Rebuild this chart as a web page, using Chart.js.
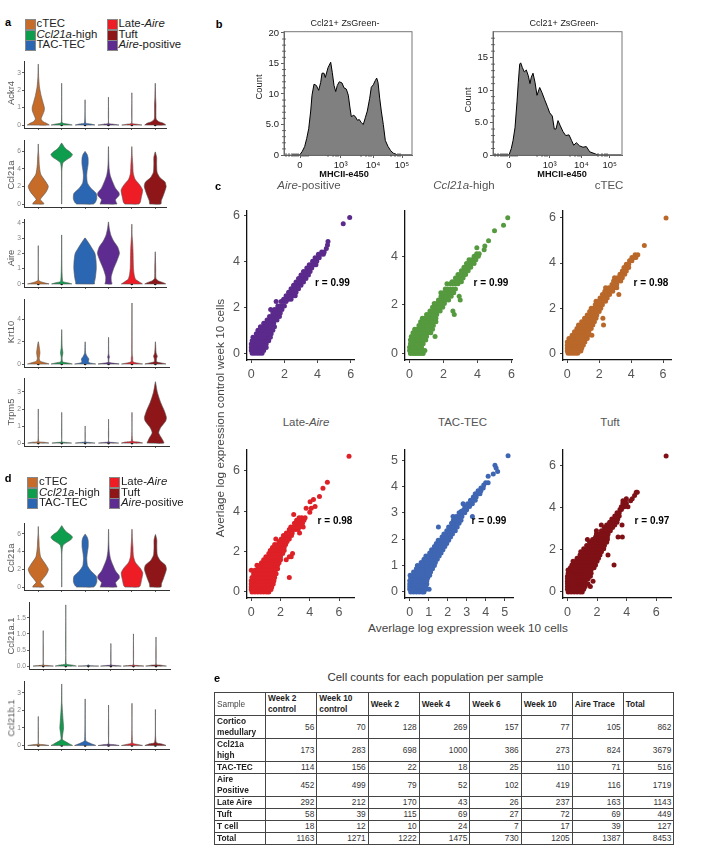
<!DOCTYPE html>
<html>
<head>
<meta charset="utf-8">
<title>Figure</title>
<script src="https://cdn.jsdelivr.net/npm/chart.js@4/dist/chart.umd.js"></script>
<style>
html, body { margin: 0; padding: 0; background: #fff; overflow: hidden; }
body { width: 708px; height: 846px; position: relative; font-family: "Liberation Sans", Arial, sans-serif; }
canvas { position: absolute; }
.txt { position: absolute; white-space: nowrap; line-height: 1; }
.sw { position: absolute; width: 9px; height: 9px; border: 0.5px solid #888; }
table { position: absolute; left: 214px; top: 692px; border-collapse: collapse; table-layout: fixed; font-size: 8.3px; color: #333; }
td { border: 1px solid #444; padding: 0 2px; text-align: right; line-height: 11px; overflow: hidden; }
td.h { text-align: left; font-weight: bold; color: #222; }
td.s { font-weight: normal; color: #444; }
</style>
</head>
<body>
<script>
// population order and colours
const populations = ["cTEC", "Ccl21a-high", "TAC-TEC", "Aire-positive", "Late-Aire", "Tuft"];
const popColors = ["#c76b29", "#0e9d4d", "#2b66b3", "#5e2b90", "#ee1c25", "#8e1518"];

// violins: [expression, half width] from the bottom up, one list per population
const ackr4Violins = [
    [[0,.47],[.1,.35],[.2,.2],[.35,.12],[.5,.16],[.8,.25],[1,.26],[1.3,.2],[1.7,.12],[2.2,.05],[2.8,.015],[3.5,.003]],
    [[0,.45],[.05,.3],[.1,.06],[.2,.01],[2.4,.003]],
    [[0,.42],[.06,.25],[.12,.03],[1.45,.003]],
    [[0,.45],[.05,.2],[.1,.01],[1.6,.003]],
    [[0,.43],[.05,.2],[.1,.01],[1.85,.003]],
    [[0,.45],[.1,.35],[.2,.15],[.35,.04],[.7,.03],[1.2,.03],[1.6,.015],[2.4,.003]],
];
const ackr4Medians = [1, 0, 0, 0, 0, 0];

const ccl21aViolins = [
    [[0,.24],[.2,.2],[.5,.09],[.8,.16],[1.4,.34],[2,.43],[2.6,.3],[3.4,.1],[4.5,.04],[5.2,.03],[6,.01],[6.8,.003]],
    [[0,.003],[3.5,.006],[4.2,.02],[4.7,.06],[5,.2],[5.3,.38],[5.6,.46],[5.9,.36],[6.2,.2],[6.5,.1],[6.9,.005]],
    [[0,.36],[.2,.44],[.6,.5],[1.2,.48],[1.8,.25],[2.4,.1],[3.2,.07],[3.8,.09],[4.5,.13],[5.2,.13],[5.6,.09],[5.95,.005]],
    [[0,.36],[.2,.33],[.5,.3],[1,.46],[1.3,.45],[1.8,.3],[2.5,.18],[3.2,.08],[4,.03],[5,.012],[6.5,.003]],
    [[0,.3],[.2,.36],[.7,.4],[1.6,.46],[2.2,.33],[2.8,.14],[3.5,.06],[4.5,.04],[5.5,.015],[6.5,.003]],
    [[0,.24],[.4,.26],[1,.35],[2,.47],[2.5,.42],[3,.2],[3.6,.08],[4.5,.06],[5.3,.06],[5.9,.004]],
];
const ccl21aMedians = [2, 5.6, 1.3, 1.3, 1.6, 2.1];

const aireViolins = [
    [[0,.46],[.06,.3],[.15,.1],[.25,.01],[2.5,.003]],
    [[0,.43],[.08,.25],[.18,.04],[3.2,.003]],
    [[0,.4],[.1,.4],[.4,.44],[1,.48],[1.5,.47],[2,.42],[2.4,.27],[2.8,.1],[3,.01]],
    [[0,.15],[.2,.12],[.5,.12],[1,.22],[1.5,.36],[2,.47],[2.4,.4],[2.8,.22],[3.2,.1],[3.6,.04],[4.05,.003]],
    [[0,.45],[.1,.35],[.3,.16],[.6,.1],[1,.07],[1.5,.06],[2.2,.05],[2.8,.03],[3.2,.01],[3.9,.003]],
    [[0,.45],[.1,.32],[.2,.14],[.35,.03],[1,.02],[2.1,.003]],
];
const aireMedians = [0, 0, 1.25, 2, 0, 0];

const krt10Violins = [
    [[0,.46],[.12,.28],[.25,.08],[.5,.04],[1,.07],[1.4,.05],[2,.005]],
    [[0,.45],[.1,.25],[.2,.04],[.6,.02],[1,.05],[1.5,.02],[3.1,.003]],
    [[0,.45],[.1,.2],[.2,.14],[.45,.16],[.7,.08],[1,.02],[2,.003]],
    [[0,.45],[.08,.18],[.15,.02],[.5,.02],[.6,.04],[.9,.01],[2.4,.003]],
    [[0,.45],[.1,.2],[.2,.04],[.6,.03],[.8,.01],[5.5,.003]],
    [[0,.45],[.1,.25],[.2,.05],[.5,.05],[.7,.08],[1,.03],[2,.003]],
];
const krt10Medians = [0, 0, 0, 0, 0, 0];

const trpm5Violins = [
    [[0,.45],[.05,.25],[.1,.02],[2,.003]],
    [[0,.42],[.04,.2],[.08,.01],[1.8,.003]],
    [[0,.42],[.04,.2],[.08,.01],[1,.003]],
    [[0,.43],[.04,.2],[.08,.01],[1.4,.003]],
    [[0,.45],[.06,.3],[.12,.03],[1.8,.003]],
    [[0,.36],[.3,.26],[.6,.14],[.9,.22],[1.3,.44],[1.5,.47],[1.9,.38],[2.4,.22],[3,.08],[3.6,.003]],
];
const trpm5Medians = [0, 0, 0, 0, 0, 1.5];

const ccl21a1Violins = [
    [[0,.45],[.02,.2],[.04,.01],[1.1,.003]],
    [[0,.47],[.03,.3],[.07,.02],[1.9,.003]],
    [[0,.46],[.01,.1],[.03,.003]],
    [[0,.46],[.02,.2],[.04,.01],[.7,.003]],
    [[0,.46],[.02,.2],[.04,.01],[1,.003]],
    [[0,.46],[.03,.2],[.05,.01],[.9,.003]],
];
const ccl21a1Medians = [0, 0, 0, 0, 0, 0];

const ccl21b1Violins = [
    [[0,.45],[.05,.2],[.1,.01],[1.65,.003]],
    [[0,.46],[.1,.32],[.25,.12],[.35,.03],[.6,.04],[1,.08],[1.4,.06],[2,.03],[2.5,.01],[3.5,.003]],
    [[0,.45],[.08,.3],[.2,.1],[.3,.02],[2.65,.003]],
    [[0,.45],[.05,.2],[.1,.01],[2.3,.003]],
    [[0,.45],[.06,.25],[.14,.03],[2.4,.003]],
    [[0,.45],[.08,.28],[.18,.03],[2.05,.003]],
];
const ccl21b1Medians = [0, 0, 0, 0, 0, 0];

// flow histograms: x is the position on the biexponential axis
const histAX = [8,15.7,18.3,20.7,22.7,24.7,26.7,28,30,32.3,34.7,36.7,38,40,41.3,44,46.7,48.3,50,51.7,53.3,55.3,58,60,62.3,64.3,66,67.3,69.7,71.3,73.3,75.3,77.3,79.3,81.3,83.3,85.7,87.3,89.3,91.3,92.7,94,95.7,97.3,99.3,101.3,104,106.7,109.3,113.3,128];
const histACount = [0,0,.6,1.4,2.7,4.3,7.2,9.8,11.6,11.4,10.6,11.9,13.4,13.4,12.7,14.3,15.2,13.5,11.4,10.4,11.4,12,11.8,11,10.8,9.8,7.7,6.3,6.5,6.3,5.7,5.8,5.3,5,6.1,7.2,9.3,11.1,11.5,12.2,12.6,11.9,9.3,7.2,5,2.4,1.4,.7,.3,0,0];
const histBX = [.7,16,18.3,20,22,24,25.3,26.7,27.7,29.3,31.3,33.3,35.3,37,38.3,40,42,44,46.7,49,51.7,54.3,56.7,59.3,61.3,63,65,67.3,70,72.7,76,78.7,80.7,83.3,86.7,90,93.3,96.7,100,105,128];
const histBCount = [0,0,1,2.2,4.2,8.2,11.2,14,14.2,13.5,12.8,13.1,12.2,11,12,12.6,11.2,9.2,10.4,9.6,8.5,7.5,6.5,6,4,4,5.3,4.5,3.6,3,3.1,2.2,1.5,1.9,1.4,1.2,1.3,.5,.3,0,0];
const histAXTicks = [16, 56.7, 89, 118];
const histBXTicks = [16, 56.7, 88.4, 116.7];
const histXLabels = ["0", "10³", "10⁴", "10⁵"];
const histAMinorX = [2,5,8,10,12,14,18,20,22,24,44,49,52,54,77,82,85,87,107,111,114,116];
const histBMinorX = [2,5,8,10,12,14,18,20,22,24,44,49,52,54,77,82,85,87,105,109,112,114];
const histAYTicks = [0, 5, 10, 15, 20];
const histBYTicks = [0, 5, 10, 15];
const histAYLabels = ["0", "5.0", "10", "15", "20"];
const histBYLabels = ["0", "5.0", "10", "15"];
const histAMinorY = [1,2,3,4,6,7,8,9,11,12,13,14,16,17,18,19];
const histBMinorY = [1,2,3,4,6,7,8,9,11,12,13,14,16,17,18];

// scatter clouds, one row per control level: [y, x, x, x...]
const airePosRows = [
    [0,.05,.2,.35,.5,.65],[.12,0,.15,.3,.45,.6,.75],[.25,0,.15,.3,.45,.6,.75,.9],[.4,0,.15,.3,.45,.6,.75,.9],
    [.55,.05,.2,.35,.5,.65,.8,.95,1.05],[.7,.1,.3,.45,.6,.75,.9,1.05,1.15],[.85,.3,.45,.6,.75,.9,1.05,1.2],
    [1,.4,.55,.7,.85,1,1.15,1.3],[1.15,.55,.7,.85,1,1.15,1.3,1.4],[1.3,.75,.9,1.05,1.2,1.35],[1.45,.95,1.1,1.25,1.4,1.55],
    [1.6,1.1,1.25,1.4,1.55,1.7],[1.75,1.3,1.45,1.6,1.75],[1.9,1.17,1.4,1.55,1.7,1.85],[2.05,1.6,1.75,1.9,2],[2.25,1.5,1.8,1.95,2.1],
    [2.35,1.95,2.1,2.25,2.4],[2.5,2.1,2.25,2.4,2.55,2.65],[2.65,2.25,2.4,2.55,2.7],[2.8,2.4,2.55,2.7,2.85],[2.95,2.55,2.7,2.85,3],[3.1,2.7,2.85,3,3.15],
    [3.25,2.85,3,3.15,3.3],[3.4,3,3.15,3.3,3.45],[3.55,3.15,3.3,3.45,3.55],[3.7,3.35,3.5,3.65],[3.85,3.5,3.65,3.8,3.9],[4,3.7,3.85,3.95],[4.15,3.85,4,4.1],
    [4.3,4.05,4.2,4.35],[4.4,4.25,4.4],[4.55,4.53],[4.7,4.6],[4.85,4.63],[5.62,5.55],[5.9,5.94],
];
const ccl21aHighRows = [
    [0,.05,.2,.35,.5,.65,.8],[.12,0,.15,.3,.45,.6,.75,.9],[.25,0,.15,.3,.45,.6,.7],[.4,.05,.2,.35,.5,.65,.8],[.55,.05,.2,.35,.5,.65,.8,.95],
    [.7,.1,.25,.4,.55,.7,.85,1,1.5],[.85,.2,.35,.5,.65,.8,.95,1.1,1.25],[1,.3,.45,.6,.75,.9,1.05,1.2,1.35],[1.15,.55,.7,.85,1,1.15,1.3,1.4],
    [1.3,.65,.8,.95,1.1,1.25,1.4,1.55],[1.45,.75,.9,1.05,1.2,1.35,1.55],[1.6,1,1.15,1.3,1.45,1.6,2.63],[1.75,1.2,1.35,1.5,1.65,1.8,2.55],
    [1.9,1.35,1.5,1.65,1.8,1.95],[2.05,1.45,1.6,1.75,1.9,2.05],[2.2,1.7,1.85,2,2.15,2.3,2.98],[2.35,1.85,2,2.15,2.3,2.45,2.92],
    [2.5,1.84,2,2.15,2.3,2.45,2.6],[2.65,2.1,2.25,2.4,2.55,2.7],[2.87,2.2,2.4,2.55,2.7,2.85],[2.95,2.5,2.65,2.8,2.95,3.05],[3.1,2.7,2.85,3,3.15],
    [3.25,2.85,3,3.15,3.3],[3.4,3.05,3.2,3.35,3.45],[3.55,3.2,3.35,3.5,3.6],[3.7,3.35,3.5,3.65,3.8],[3.85,3.5,3.65,3.8,3.9],[4,3.8,3.95,4.05],[4.1,3.95,4.1],
    [4.27,4.39],[4.35,3.96],[4.42,4.43],[4.64,4.65],[5.05,5],[5.27,5.53],[5.58,5.78],
];
const ctecRows = [
    [0,.05,.2,.35,.5,.65],[.1,0,.15,.3,.45,.6,.75,.85],[.22,0,.15,.3,.45,.6,.75,.9],[.35,0,.15,.3,.45,.6,.75,.9,1],[.5,0,.1,.25,.4,.55,.7,.85,1,1.1],
    [.65,.1,.25,.4,.55,.7,.85,1,1.15,1.25],[.8,.3,.45,.6,.75,.9,1.05,1.2,1.3,1.54],[.95,.45,.6,.75,.9,1.05,1.2,1.35],[1.1,.6,.75,.9,1.05,1.2,1.35,1.5],
    [1.25,.7,.85,1,1.15,1.3,1.45,1.6,2.27],[1.4,.9,1.05,1.2,1.35,1.5,1.7],[1.55,1.08,1.2,1.35,1.5,1.65,1.8,2.23],[1.7,1.25,1.4,1.55,1.7,1.85],
    [1.85,1.4,1.55,1.7,1.85,2],[2,1.5,1.65,1.8,1.95,2.1],[2.15,1.75,1.9,2.05,2.2],[2.3,1.8,1.95,2.1,2.25,2.4],[2.45,2.05,2.2,2.35,2.5],
    [2.6,2.2,2.35,2.5,2.65,3.23],[2.75,2.35,2.5,2.65,2.85],[2.9,2.4,2.6,2.75,2.95,3.1],[3.05,2.8,2.95,3.1],[3.2,2.9,3.05,3.2,3.35],
    [3.35,2.96,3.15,3.3,3.45],[3.5,3.3,3.45,3.6],[3.65,3.45,3.55,3.7],[3.8,3.55,3.7,3.85],[3.95,3.7,3.85],[4.1,3.9,3.95,4.05],[4.25,4.05,4.2,4.3],
    [4.37,4.25,4.42],[4.78,4.83],[6,6.19],
];
const lateAireRows = [
    [0,.05,.25,.45,.65,.85,1.05,1.2],[.12,0,.2,.4,.6,.8,1,1.2,1.35],[.25,0,.2,.4,.6,.8,1,1.2,1.4],[.4,0,.2,.4,.6,.8,1,1.2,1.4,1.5],[.55,0,.2,.4,.6,.8,1,1.2,1.4,1.55],
    [.72,.05,.25,.45,.65,.85,1.05,1.25,1.45,1.6,2.6],[.9,.16,.35,.55,.75,.95,1.15,1.35,1.55,1.7],[1.08,0,.25,.45,.65,.85,1.05,1.25,1.45,1.65],
    [1.15,.45,.65,.85,1.05,1.25,1.45,1.65,1.8],[1.32,.39,.6,.8,1,1.2,1.4,1.6,1.8],[1.45,.7,.9,1.1,1.3,1.5,1.7,1.9],[1.6,.85,1.05,1.25,1.45,1.65,1.85,2,2.39],
    [1.75,1,1.2,1.4,1.6,1.8,2,2.6,2.73],[1.9,1.2,1.4,1.6,1.8,2,2.15,2.82],[2.05,1.3,1.5,1.7,1.9,2.1,2.25],[2.2,1.45,1.65,1.85,2.05,2.25],[2.35,1.6,1.8,2,2.2,2.35],
    [2.5,1.9,2.1,2.3,2.45],[2.62,1.68,2.05,2.25,2.45,2.6],[2.8,2.2,2.4,2.6,2.75],[2.92,2.4,2.6,2.8,3.3],[3.1,2.6,2.8,3,3.2],[3.22,2.7,2.9,3.1,3.3,3.55],
    [3.4,2.95,3.15,3.3,3.5],[3.55,3.1,3.3,3.6],[3.68,3.27,3.45,3.68],[3.84,2.9],[3.95,4],[4.15,3.75,4.1],[4.23,4.36],[4.47,4.02],[4.58,4.25],[4.73,4.66],[5.14,4.9],[5.44,5.2],[6.73,6.68],
];
const tacTecRows = [
    [0,.05,.2,.35,.5,.65,.75],[.1,0,.15,.3,.45,.6,.75,.85,1.02],[.2,0,.15,.3,.45,.6,.75,.85],[.3,0,.15,.3,.45,.6,.75,.9],[.42,0,.15,.3,.45,.6,.75,.9],
    [.54,.05,.2,.35,.5,.65,.8,.95],[.63,.02,.2,.35,.5,.65,.8,.95,1.05],[.76,.2,.35,.5,.65,.8,.95,1.1],[.88,.35,.5,.65,.8,.95,1.1,1.2],[1,.4,.55,.7,.85,1,1.15,1.3],
    [1.12,.6,.75,.9,1.05,1.2,1.35],[1.24,.75,.9,1.05,1.2,1.35,1.45],[1.36,.85,1,1.15,1.3,1.45,1.55],[1.48,1.05,1.2,1.35,1.5,1.65],[1.6,1.15,1.3,1.45,1.6,1.75],
    [1.72,1.3,1.45,1.6,1.75,1.85],[1.84,1.4,1.55,1.7,1.85,1.95],[1.96,1.5,1.65,1.8,1.95,2.05],[2.08,1.7,1.85,2,2.15],[2.2,1.8,1.95,2.1,2.25],[2.32,1.95,2.1,2.25,2.4],
    [2.46,1.51,2.05,2.2,2.35,2.5],[2.6,2.2,2.35,2.5,2.6],[2.72,2.3,2.45,2.6,2.7],[2.86,2.28,2.45,2.6,2.75,3.3],[3,2.6,2.75,2.9],[3.06,2.72],[3.12,2.85,3],[3.24,2.9,3.05,3.15],
    [3.34,2.81,3.05,3.2,3.3],[3.48,3.2,3.35,3.45],[3.6,3.35,3.5],[3.72,3.45,3.6,3.7],[3.84,3.6,3.75],[3.94,3.75,3.87],[4.05,3.9],[4.14,4,4.13],[4.39,4.13],[4.47,4.4],[4.57,4.63],[4.7,4.55],[4.8,4.49],[5.16,5.18],
];
const tuftRows = [
    [0,.05,.25,.45,.65,.85,1],[.12,0,.2,.4,.6,.8,1,1.1],[.25,0,.2,.4,.6,.8,1,1.2,1.55],[.38,0,.2,.4,.6,.8,1,1.2,1.39],[.5,0,.2,.4,.6,.8,1,1.2,1.73],[.62,0,.2,.4,.6,.8,1,1.2,1.4],
    [.74,0,.2,.4,.6,.8,1,1.2,1.4,1.55],[.88,.05,.25,.45,.65,.85,1.05,1.25,1.45,1.6],[1.04,.04,.2,.4,.6,.8,1,1.2,1.4,1.6],[1.15,.2,.4,.6,.8,1,1.2,1.4,1.6,1.8],
    [1.28,.3,.5,.7,.9,1.1,1.3,1.5,1.7,1.9,3.15],[1.45,.38,.6,.8,1,1.2,1.4,1.6,1.8,2],[1.6,.65,.85,1.05,1.25,1.45,1.65,1.85,2.1],[1.75,.85,1.05,1.25,1.45,1.65,1.85,2.05,2.2,2.74],
    [1.9,.9,1.1,1.3,1.5,1.7,1.9,2.1,2.3],[2.05,1.1,1.3,1.5,1.7,1.9,2.1,2.3,2.45],[2.2,1.3,1.5,1.7,1.9,2.1,2.3,2.5],[2.35,1.5,1.7,1.9,2.1,2.3,2.5,2.65],
    [2.48,1.35,1.7,1.9,2.1,2.3,2.5,2.7],[2.6,1.9,2.1,2.3,2.5,2.7,3.42,3.71],[2.74,1.96,2.15,2.35,2.55,2.75],[2.9,1.96,2.3,2.5,2.7,2.9],[3.05,2.5,2.65,2.85,3.05],
    [3.17,2.29,2.65,2.8,3,3.2,3.69],[3.3,2.85,3,3.2,3.35],[3.45,3,3.2,3.4],[3.6,3.2,3.35,3.5],[3.75,3.35,3.5],[3.9,3.55,3.65],[4.04,3.64,3.85,4.09],[4.2,3.75,3.98],[4.32,3.75,4.27],[4.42,3.98,4.38],[4.57,4.54],[4.72,4.65,4.72],[6.44,6.67],
];

// table e
const tableHeader = ["Sample", "Week 2<br>control", "Week 10<br>control", "Week 2", "Week 4", "Week 6", "Week 10", "Aire Trace", "Total"];
const tableLabels = ["Cortico<br>medullary", "Ccl21a<br>high", "TAC-TEC", "Aire<br>Positive", "Late Aire", "Tuft", "T cell", "Total"];
const tableCounts = [
    [56, 70, 128, 269, 157, 77, 105, 862],
    [173, 283, 698, 1000, 386, 273, 824, 3679],
    [114, 156, 22, 18, 25, 110, 71, 516],
    [452, 499, 79, 52, 102, 419, 116, 1719],
    [292, 212, 170, 43, 26, 237, 163, 1143],
    [58, 39, 115, 69, 27, 72, 69, 449],
    [18, 12, 10, 24, 7, 17, 39, 127],
    [1163, 1271, 1222, 1475, 730, 1205, 1387, 8453],
];
const tableColWidths = [51, 51.3, 51.4, 51, 50.6, 51.4, 51, 51, 50.6];
const tableRowHeights = [22, 21.5, 22, 11.5, 22, 11.5, 11.5, 12, 11.5];

// helpers
const label = (x, y, html, opts = {}) => {
    const d = document.createElement("div");
    d.className = "txt";
    d.innerHTML = html;
    d.style.left = x + "px";
    d.style.top = y + "px";
    d.style.fontSize = (opts.size || 10) + "px";
    d.style.fontWeight = opts.weight || "normal";
    d.style.color = opts.color || "#444";
    d.style.transform = `translate(-50%,-50%) rotate(${opts.rot || 0}deg)`;
    document.body.appendChild(d);
};

const rowsToPoints = (rows) =>
    rows.flatMap((r) => r.slice(1).map((x) => ({ x: x, y: r[0] })));

const fixedTicks = (values) => (axis) => {
    axis.ticks = values.map((v) => ({ value: v }));
};

// fills a closed line dataset along the path Chart.js made for it
const violinFill = {
    id: "violinFill",
    beforeDatasetDraw(chart, args) {
        const ds = chart.data.datasets[args.index];
        if (!ds.shapeColor) return;
        const ctx = chart.ctx;
        ctx.save();
        ctx.beginPath();
        args.meta.dataset.path(ctx);
        ctx.closePath();
        ctx.fillStyle = ds.shapeColor;
        ctx.fill();
        ctx.restore();
    },
};

const boxFrame = {
    id: "boxFrame",
    afterDraw(chart) {
        if (!chart.options.plugins.boxFrame.show) return;
        const a = chart.chartArea;
        chart.ctx.save();
        chart.ctx.strokeStyle = "#777";
        chart.ctx.lineWidth = 1;
        chart.ctx.strokeRect(a.left, a.top, a.right - a.left, a.bottom - a.top);
        chart.ctx.restore();
    },
};

// rect is the plot area in page pixels
const addChart = (rect, datasets, scales, show) => {
    const padL = 26, padB = 22, padT = 4, padR = 6;
    const c = document.createElement("canvas");
    c.width = rect.r - rect.l + padL + padR;
    c.height = rect.b - rect.t + padT + padB;
    c.style.left = rect.l - padL + "px";
    c.style.top = rect.t - padT + "px";
    document.body.appendChild(c);
    scales.x.afterFit = (s) => { s.height = padB; };
    scales.y.afterFit = (s) => { s.width = padL; };
    new Chart(c, {
        type: "scatter",
        data: { datasets: datasets },
        options: {
            responsive: false,
            animation: false,
            layout: { padding: { top: padT, right: padR, left: 0, bottom: 0 } },
            plugins: { legend: { display: false }, tooltip: { enabled: false }, boxFrame: { show: !!show } },
            scales: scales,
        },
        plugins: [violinFill, boxFrame],
    });
};

const axisStyle = (min, max, ticks, labels, o) => ({
    type: "linear",
    min: min,
    max: max,
    afterBuildTicks: fixedTicks(ticks),
    border: { display: true, color: o.line, width: o.width },
    grid: { display: true, drawOnChartArea: false, drawTicks: true, tickLength: o.tick, tickColor: o.line, tickWidth: 0.8 },
    ticks: {
        autoSkip: false,
        maxRotation: 0,
        minRotation: 0,
        padding: o.pad,
        color: o.color,
        font: { family: "Liberation Sans", size: o.size },
        callback: (v, i) => (labels ? labels[i] : v),
    },
});

const catTicks = [0, 1, 2, 3, 4, 5];
const blankCats = ["", "", "", "", "", ""];

const violinChart = (rect, violins, medians, yMin, yMax, yTicks, yLabels, xMin, xMax) => {
    const datasets = violins.map((levels, i) => ({
        data: levels.map((p) => ({ x: i - p[1], y: p[0] }))
            .concat(levels.slice().reverse().map((p) => ({ x: i + p[1], y: p[0] })))
            .concat([{ x: i - levels[0][1], y: levels[0][0] }]),
        showLine: true,
        tension: 0.2,
        pointRadius: 0,
        borderWidth: 0.6,
        borderColor: "#555",
        shapeColor: popColors[i],
        clip: false,
    }));
    datasets.push({
        data: medians.map((m, i) => ({ x: i, y: m })),
        pointRadius: 1.3,
        backgroundColor: "#000",
        borderWidth: 0,
        clip: false,
    });
    const axis = { line: "#333", width: 1, tick: 2, pad: 1, color: "#888", size: 6.7 };
    addChart(rect, datasets, {
        x: axisStyle(xMin, xMax, catTicks, blankCats, axis),
        y: axisStyle(yMin, yMax, yTicks, yLabels, axis),
    });
};

const scatterChart = (rect, rows, color, xMin, xMax, xTicks, yMin, yMax, yTicks) => {
    const axis = { line: "#111", width: 1.3, tick: 3, pad: 4, color: "#555", size: 12.5 };
    addChart(rect, [{
        data: rowsToPoints(rows),
        pointRadius: 2.5,
        backgroundColor: color,
        borderWidth: 0,
        clip: false,
    }], {
        x: axisStyle(xMin, xMax, xTicks, null, axis),
        y: axisStyle(yMin, yMax, yTicks, null, axis),
    });
};

const histChart = (rect, xs, counts, xTicks, minorX, yMax, yTicks, yLabels, minorY) => {
    const axis = { line: "#333", width: 0.8, tick: 3, pad: 2, color: "#222", size: 9.5 };
    const xMax = rect.r - rect.l;
    addChart(rect, [
        {
            data: xs.map((x, i) => ({ x: x, y: counts[i] })),
            showLine: true,
            pointRadius: 0,
            borderColor: "#000",
            borderWidth: 1,
            backgroundColor: "#808080",
            fill: "origin",
        },
        { data: minorX.map((x) => ({ x: x, y: 0 })), pointStyle: "line", rotation: 90, radius: 1.8, borderColor: "#222", borderWidth: 0.8, clip: false },
        { data: minorY.map((y) => ({ x: 0, y: y })), pointStyle: "line", radius: 1.8, borderColor: "#222", borderWidth: 0.8, clip: false },
    ], {
        x: axisStyle(0, xMax, xTicks, histXLabels, axis),
        y: axisStyle(0, yMax, yTicks, yLabels, axis),
    }, true);
};

// panel a
const sw = (x, y, color) => {
    const d = document.createElement("div");
    d.className = "sw";
    d.style.left = x + "px";
    d.style.top = y + "px";
    d.style.background = color;
    document.body.appendChild(d);
};
const legendBlock = (x1, t1, x2, t2, y) => {
    const rows = [
        [0, "cTEC", 4, "Late-<i>Aire</i>"],
        [1, "<i>Ccl21a</i>-high", 5, "Tuft"],
        [2, "TAC-TEC", 3, "<i>Aire</i>-positive"],
    ];
    rows.forEach((r, i) => {
        sw(x1, y + i * 10.5 - 5, popColors[r[0]]);
        sw(x2, y + i * 10.5 - 5, popColors[r[2]]);
        for (const [x, text] of [[t1, r[1]], [t2, r[3]]]) {
            const d = document.createElement("div");
            d.className = "txt";
            d.innerHTML = text;
            d.style.left = x + "px";
            d.style.top = y + i * 10.7 - 6 + "px";
            d.style.fontSize = "11.4px";
            d.style.color = "#222";
            document.body.appendChild(d);
        }
    });
};

label(8, 22, "a", { size: 11, weight: "bold", color: "#000" });
legendBlock(25, 36.5, 107, 118.5, 24);
violinChart({ l: 24, r: 166, t: 60, b: 128 }, ackr4Violins, ackr4Medians, -.17, 3.68, [0, 1, 2, 3], null, -.61, 5.46);
violinChart({ l: 24, r: 166, t: 139, b: 207 }, ccl21aViolins, ccl21aMedians, -.33, 7.25, [0, 2, 4, 6], null, -.61, 5.46);
violinChart({ l: 24, r: 166, t: 218, b: 287 }, aireViolins, aireMedians, -.2, 4.24, [0, 1, 2, 3, 4], null, -.61, 5.46);
violinChart({ l: 24, r: 169, t: 298, b: 367 }, krt10Violins, krt10Medians, -.27, 5.86, [0, 2, 4], null, -.61, 5.58);
violinChart({ l: 24, r: 169, t: 377, b: 446 }, trpm5Violins, trpm5Medians, -.17, 3.82, [0, 1, 2, 3], null, -.61, 5.58);
label(11, 93, "Ackr4", { size: 9.4, rot: -90, color: "#555" });
label(11, 175, "Ccl21a", { size: 9.4, rot: -90, color: "#555" });
label(11, 258, "Aire", { size: 9.4, rot: -90, color: "#555" });
label(11, 332, "Krt10", { size: 9.4, rot: -90, color: "#555" });
label(11, 412, "Trpm5", { size: 9.4, rot: -90, color: "#555" });

// panel d
label(8, 478, "d", { size: 11, weight: "bold", color: "#000" });
legendBlock(27, 39, 109, 121, 482);
violinChart({ l: 24, r: 169, t: 522, b: 590 }, ccl21aViolins, ccl21aMedians, -.33, 7.2, [0, 2, 4, 6], null, -.61, 5.58);
violinChart({ l: 29, r: 170, t: 601, b: 669 }, ccl21a1Violins, ccl21a1Medians, -.09, 1.99, [0, .5, 1, 1.5], ["0.0", "0.5", "1.0", "1.5"], -.63, 5.62);
violinChart({ l: 24, r: 169, t: 680, b: 749 }, ccl21b1Violins, ccl21b1Medians, -.2, 3.67, [0, 1, 2, 3], null, -.61, 5.58);
label(11, 558, "Ccl21a", { size: 9.4, rot: -90, color: "#555" });
label(11, 636, "Ccl21a.1", { size: 9.4, rot: -90, color: "#555" });
label(11, 718, "Ccl21b.1", { size: 9.4, rot: -90, color: "#555" });

// panel b
label(219, 24, "b", { size: 11, weight: "bold", color: "#000" });
histChart({ l: 284, r: 412, t: 28, b: 155.5 }, histAX, histACount, histAXTicks, histAMinorX, 20.2, histAYTicks, histAYLabels, histAMinorY);
histChart({ l: 493, r: 622, t: 28, b: 155.5 }, histBX, histBCount, histBXTicks, histBMinorX, 19, histBYTicks, histBYLabels, histBMinorY);
label(345, 23, "Ccl21+ ZsGreen-", { size: 9, color: "#222" });
label(564, 23, "Ccl21+ ZsGreen-", { size: 9, color: "#222" });
label(259, 87, "Count", { size: 9.4, rot: -90, color: "#222" });
label(468, 100, "Count", { size: 9.4, rot: -90, color: "#222" });
label(344, 174.5, "MHCII-e450", { size: 9.2, weight: "bold", color: "#111" });
label(562, 174.5, "MHCII-e450", { size: 9.2, weight: "bold", color: "#111" });

// panel c
label(218, 186, "c", { size: 11, weight: "bold", color: "#000" });
scatterChart({ l: 246.7, r: 354, t: 203, b: 360 }, airePosRows, "#5b2a8c", -.26, 6.2, [0, 2, 4, 6], -.29, 6.2, [0, 2, 4, 6]);
scatterChart({ l: 405, r: 513, t: 203, b: 360 }, ccl21aHighRows, "#559a3e", -.27, 6.04, [0, 2, 4, 6], -.27, 5.88, [0, 2, 4]);
scatterChart({ l: 563.3, r: 671.7, t: 203, b: 360 }, ctecRows, "#b9682a", -.27, 6.5, [0, 2, 4, 6], -.3, 6.33, [0, 2, 4, 6]);
scatterChart({ l: 246.7, r: 354, t: 441.7, b: 597.7 }, lateAireRows, "#de2027", -.29, 7.02, [0, 2, 4, 6], -.3, 7.06, [0, 2, 4, 6]);
scatterChart({ l: 405, r: 513, t: 441.7, b: 597.7 }, tacTecRows, "#3f66b3", -.25, 5.44, [0, 1, 2, 3, 4, 5], -.23, 5.4, [0, 1, 2, 3, 4, 5]);
scatterChart({ l: 563.3, r: 671.7, t: 441.7, b: 597.7 }, tuftRows, "#7f1116", -.3, 7, [0, 2, 4, 6], -.29, 6.75, [0, 2, 4, 6]);
label(309, 186, "<i>Aire</i>-positive", { size: 11.5, color: "#555" });
label(464, 186, "<i>Ccl21a</i>-high", { size: 11.5, color: "#555" });
label(609, 186, "cTEC", { size: 11.5, color: "#555" });
label(306, 423, "Late-<i>Aire</i>", { size: 11.5, color: "#555" });
label(462.5, 423, "TAC-TEC", { size: 11.5, color: "#555" });
label(610, 423, "Tuft", { size: 11.5, color: "#555" });
label(332.5, 282.5, "r = 0.99", { size: 10, weight: "bold", color: "#000" });
label(491, 282.5, "r = 0.99", { size: 10, weight: "bold", color: "#000" });
label(651, 282.5, "r = 0.98", { size: 10, weight: "bold", color: "#000" });
label(335, 520.5, "r = 0.98", { size: 10, weight: "bold", color: "#000" });
label(489, 520.5, "r = 0.99", { size: 10, weight: "bold", color: "#000" });
label(652, 520.5, "r = 0.97", { size: 10, weight: "bold", color: "#000" });
label(220.5, 418, "Averlage log expression control week 10 cells", { size: 11.8, rot: -90 });
label(468, 629, "Averlage log expression week 10 cells", { size: 11.8 });

// panel e
label(217, 678, "e", { size: 11, weight: "bold", color: "#000" });
label(435.5, 678, "Cell counts for each population per sample", { size: 11.4, color: "#333" });

const table = document.createElement("table");
const colgroup = document.createElement("colgroup");
tableColWidths.forEach((w) => {
    const col = document.createElement("col");
    col.style.width = w + "px";
    colgroup.appendChild(col);
});
table.appendChild(colgroup);
const addRow = (cells, height, firstClass, restClass) => {
    const tr = document.createElement("tr");
    tr.style.height = height + "px";
    cells.forEach((text, i) => {
        const td = document.createElement("td");
        td.innerHTML = text;
        if (i === 0) td.className = firstClass;
        else if (restClass) td.className = restClass;
        tr.appendChild(td);
    });
    table.appendChild(tr);
};
addRow(tableHeader, tableRowHeights[0], "h s", "h");
tableLabels.forEach((name, i) => {
    addRow([name].concat(tableCounts[i]), tableRowHeights[i + 1], "h");
});
document.body.appendChild(table);
</script>
</body>
</html>
